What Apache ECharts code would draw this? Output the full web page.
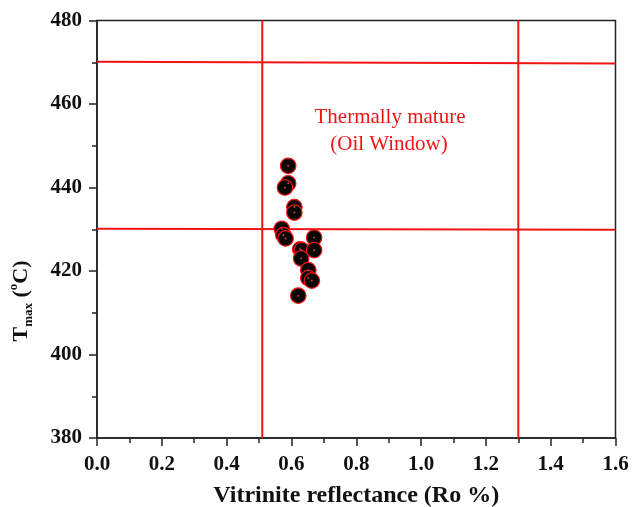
<!DOCTYPE html>
<html>
<head>
<meta charset="utf-8">
<script src="https://cdn.jsdelivr.net/npm/echarts@6/dist/echarts.min.js"></script>
<style>html,body{margin:0;padding:0;background:#fff}#c{width:632px;height:507px}</style>
</head>
<body>
<div id="c"></div>
<script>
// Data
const roValues   = [0.590, 0.590, 0.580, 0.609, 0.609, 0.570, 0.575, 0.582, 0.670, 0.627, 0.632, 0.670, 0.630, 0.652, 0.652, 0.663, 0.621];
const tmaxValues = [445.2, 441.0, 440.0, 435.3, 434.0, 430.1, 428.6, 427.8, 428.0, 425.2, 425.0, 425.0, 423.0, 420.2, 418.3, 417.7, 414.1];
// Boundary lines of the thermally mature (oil window) zone
const tmaxLines = [[470.1, 469.7], [430.1, 429.9]];   // y at x=0 and x=1.6
const roLines = [0.51, 1.30];
const xTicks = ['0.0','0.2','0.4','0.6','0.8','1.0','1.2','1.4','1.6'];
const yTicks = [380, 400, 420, 440, 460, 480];

const points = roValues.map((v, i) => [v, tmaxValues[i]]);
const serif = 'Liberation Serif, Times New Roman, serif';
const red = '#f21414';

const lineSeries = [];
tmaxLines.forEach(p => lineSeries.push({
  type: 'line', data: [[0, p[0]], [1.6, p[1]]], symbol: 'none', silent: true,
  lineStyle: { color: red, width: 2 }, z: 2
}));
roLines.forEach(r => lineSeries.push({
  type: 'line', data: [[r, 380], [r, 480]], symbol: 'none', silent: true,
  lineStyle: { color: red, width: 2 }, z: 2
}));

const chart = echarts.init(document.getElementById('c'), null, { renderer: 'canvas' });
chart.setOption({
  animation: false,
  backgroundColor: '#fff',
  grid: { left: 97, right: 16.5, top: 20.5, bottom: 69, containLabel: false, outerBoundsMode: 'none',
    show: true, borderColor: '#222', borderWidth: 1.5, backgroundColor: 'transparent' },
  xAxis: {
    type: 'value', min: 0, max: 1.6, interval: 0.2,
    axisLine: { show: true, lineStyle: { color: '#222', width: 1.5 } },
    axisTick: { show: true, inside: false, length: 8, lineStyle: { color: '#222', width: 1.5 } },
    minorTick: { show: true, splitNumber: 2, length: 5, lineStyle: { color: '#222', width: 1.5 } },
    splitLine: { show: false },
    axisLabel: { margin: 16, color: '#111', fontFamily: serif, fontWeight: 'bold', fontSize: 21,
      formatter: v => xTicks[Math.round(v / 0.2)] },
    name: 'Vitrinite reflectance (Ro %)', nameLocation: 'middle', nameGap: 46,
    nameTextStyle: { color: '#111', fontFamily: serif, fontWeight: 'bold', fontSize: 24 }
  },
  yAxis: {
    type: 'value', min: 380, max: 480, interval: 20,
    axisLine: { show: true, lineStyle: { color: '#222', width: 1.5 } },
    axisTick: { show: true, inside: false, length: 8, lineStyle: { color: '#222', width: 1.5 } },
    minorTick: { show: true, splitNumber: 2, length: 5, lineStyle: { color: '#222', width: 1.5 } },
    splitLine: { show: false },
    axisLabel: { margin: 15, color: '#111', fontFamily: serif, fontWeight: 'bold', fontSize: 21,
      formatter: v => String(yTicks[yTicks.indexOf(v)]) }
  },
  graphic: [
    {
      type: 'text', x: 21, y: 301, rotation: Math.PI / 2,
      style: {
        text: '{a|T}{sub|max}{a| (}{sup|o}{a|C)}',
        align: 'center', verticalAlign: 'middle',
        fill: '#111', font: 'bold 22px ' + serif,
        rich: {
          a: { fontFamily: serif, fontWeight: 'bold', fontSize: 22, lineHeight: 28, fill: '#111', verticalAlign: 'middle' },
          sub: { fontFamily: serif, fontWeight: 'bold', fontSize: 13, lineHeight: 13, fill: '#111', verticalAlign: 'bottom' },
          sup: { fontFamily: serif, fontWeight: 'bold', fontSize: 13, lineHeight: 13, fill: '#111', verticalAlign: 'top' }
        }
      }
    },
    {
      type: 'text', x: 390, y: 117,
      style: { text: 'Thermally mature', align: 'center', verticalAlign: 'middle', fill: red, font: '21px ' + serif }
    },
    {
      type: 'text', x: 389, y: 144,
      style: { text: '(Oil Window)', align: 'center', verticalAlign: 'middle', fill: red, font: '21px ' + serif }
    }
  ],
  series: lineSeries.concat([
    {
      type: 'scatter', data: points, symbol: 'circle', symbolSize: 15.5, z: 5,
      itemStyle: { color: '#050505', borderColor: red, borderWidth: 1.2, opacity: 1 }
    },
    {
      type: 'scatter', data: points, symbol: 'circle', symbolSize: 2, z: 6, silent: true,
      itemStyle: { color: '#d04040', opacity: 1 }
    }
  ])
});
</script>
</body>
</html>
